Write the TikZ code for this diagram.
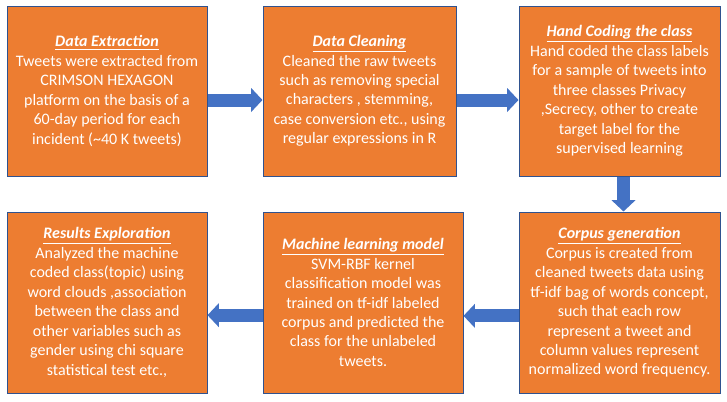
\documentclass[tikz,border=0pt]{standalone}
\usepackage{fontspec}
\setmainfont{Carlito}
\usetikzlibrary{arrows.meta}
\definecolor{boxfill}{HTML}{ED7D31}
\definecolor{boxline}{HTML}{2F528F}
\definecolor{arrowblue}{HTML}{4472C4}
\newcommand{\stagehead}[1]{\underline{\textbf{\textit{#1}}}}

\begin{document}
\begin{tikzpicture}[x=0.75pt,y=-0.75pt,
    stage/.style={draw=boxline,line width=0.75pt,fill=boxfill,text=white,align=center,
      inner sep=0pt,font=\fontsize{12}{14.6}\selectfont},
    flow/.style={arrowblue,line width=9.75pt,-{Triangle[length=8.5pt,width=17.5pt]}}]
  \useasboundingbox (0,0) rectangle (727,401);
  % top row, left to right
  \node[stage,minimum width=150pt,minimum height=127.5pt] (ext) at (107,91)
    {\stagehead{Data Extraction}\\Tweets were extracted from\\CRIMSON HEXAGON\\platform on the basis of a\\60-day period for each\\incident (\textasciitilde40 K tweets)};
  \node[stage,minimum width=144.75pt,minimum height=127.5pt] (cln) at (359.5,91)
    {\stagehead{Data Cleaning}\\Cleaned the raw tweets\\such as removing special\\characters , stemming,\\case conversion etc., using\\regular expressions in R};
  \node[stage,minimum width=150.75pt,minimum height=127.5pt] (hand) at (619.5,91)
    {\stagehead{Hand Coding the class}\\Hand coded the class labels\\for a sample of tweets into\\three classes Privacy\\,Secrecy, other to create\\target label for the\\supervised learning};
  % bottom row, right to left
  \node[stage,minimum width=150.75pt,minimum height=135.75pt] (corp) at (619.5,302.5)
    {\stagehead{Corpus generation}\\Corpus is created from\\cleaned tweets data using\\tf-idf bag of words concept,\\such that each row\\represent a tweet and\\column values represent\\normalized word frequency.};
  \node[stage,minimum width=150pt,minimum height=135.75pt] (ml) at (363,302.5)
    {\stagehead{Machine learning model}\\SVM-RBF kernel\\classification model was\\trained on tf-idf labeled\\corpus and predicted the\\class for the unlabeled\\tweets.};
  \node[stage,minimum width=150pt,minimum height=135.75pt] (res) at (107,302.5)
    {\stagehead{Results Exploration}\\Analyzed the machine\\coded class(topic) using\\word clouds ,association\\between the class and\\other variables such as\\gender using chi square\\statistical test etc.,};
  \draw[flow] ([yshift=-6.75pt]ext.east) -- ([yshift=-6.75pt]cln.west);
  \draw[flow] ([yshift=-6.75pt]cln.east) -- ([yshift=-6.75pt]hand.west);
  \draw[flow] ([xshift=3pt]hand.south) -- ([xshift=3pt]corp.north);
  \draw[flow] ([yshift=-10pt]corp.west) -- ([yshift=-10pt]ml.west -| ml.east);
  \draw[flow] ([yshift=-9.5pt]ml.west) -- ([yshift=-9.5pt]res.east);
\end{tikzpicture}
\end{document}
